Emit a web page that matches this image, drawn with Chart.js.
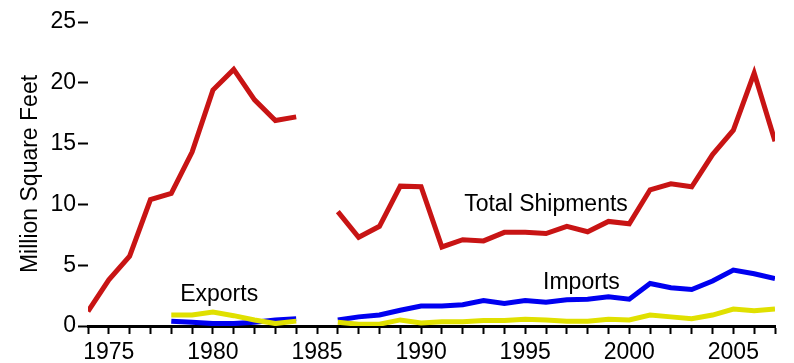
<!DOCTYPE html>
<html lang="en">
<head>
  <meta charset="UTF-8">
  <title>Million Square Feet</title>
  <script src="https://cdn.jsdelivr.net/npm/chart.js"></script>
  <style>
    html, body { margin: 0; padding: 0; background: #fff; }
    #wrap { width: 794px; height: 363px; position: relative; }
  </style>
</head>
<body>
  <div id="wrap"><canvas id="chart"></canvas></div>
  <script>
    // years on the x axis (1985 has no data)
    const years = [1974, 1975, 1976, 1977, 1978, 1979, 1980, 1981, 1982, 1983, 1984, 1985,
      1986, 1987, 1988, 1989, 1990, 1991, 1992, 1993, 1994, 1995, 1996, 1997, 1998, 1999,
      2000, 2001, 2002, 2003, 2004, 2005, 2006, 2007];

    const totalShipments = [1.2, 3.8, 5.75, 10.4, 10.9, 14.3, 19.4, 21.1, 18.6, 16.9, 17.2, null,
      9.4, 7.3, 8.2, 11.5, 11.45, 6.5, 7.1, 7.0, 7.7, 7.7, 7.6, 8.2, 7.75, 8.6,
      8.4, 11.2, 11.7, 11.45, 14.1, 16.1, 20.8, 15.2];

    const imports = [null, null, null, null, 0.4, 0.3, 0.2, 0.2, 0.3, 0.5, 0.6, null,
      0.5, 0.75, 0.9, 1.3, 1.65, 1.65, 1.75, 2.1, 1.85, 2.1, 1.95, 2.15, 2.2, 2.4,
      2.2, 3.5, 3.15, 3.0, 3.7, 4.6, 4.3, 3.9];

    const exports = [null, null, null, null, 0.9, 0.9, 1.15, 0.85, 0.5, 0.2, 0.4, null,
      0.3, 0.15, 0.15, 0.5, 0.25, 0.35, 0.35, 0.45, 0.45, 0.55, 0.5, 0.4, 0.4, 0.55,
      0.5, 0.9, 0.75, 0.6, 0.9, 1.4, 1.25, 1.4];

    const yTicks = [0, 5, 10, 15, 20, 25];

    // in-chart series labels, placed in data units
    const seriesLabels = ['Total Shipments', 'Imports', 'Exports'];
    const labelX = [1996.0, 1997.7, 1980.3];
    const labelY = [10.0, 3.6, 2.55];

    const FONT = '"Liberation Sans", Arial, sans-serif';

    function pairs(vals) {
      return years.map((yr, i) => ({ x: yr, y: vals[i] }));
    }

    const textPlugin = {
      id: 'seriesText',
      afterDatasetsDraw(chart) {
        const ctx = chart.ctx;
        const xs = chart.scales.x, ys = chart.scales.y;
        ctx.save();
        ctx.fillStyle = '#000';
        ctx.font = '23px ' + FONT;
        ctx.textAlign = 'center';
        ctx.textBaseline = 'middle';
        seriesLabels.forEach((t, i) => {
          ctx.fillText(t, xs.getPixelForValue(labelX[i]), ys.getPixelForValue(labelY[i]));
        });
        ctx.restore();
      }
    };

    const lineStyle = {
      borderWidth: 5,
      pointRadius: 0,
      fill: false,
      tension: 0,
      spanGaps: false,
      borderCapStyle: 'butt',
      borderJoinStyle: 'miter'
    };

    new Chart(document.getElementById('chart'), {
      type: 'line',
      data: {
        datasets: [
          Object.assign({ label: 'Exports', data: pairs(exports), borderColor: '#e0e000' }, lineStyle),
          Object.assign({ label: 'Imports', data: pairs(imports), borderColor: '#0000f0' }, lineStyle),
          Object.assign({ label: 'Total Shipments', data: pairs(totalShipments), borderColor: '#c81414' }, lineStyle)
        ]
      },
      options: {
        responsive: true,
        maintainAspectRatio: false,
        animation: false,
        layout: { padding: { top: 22, right: 19, left: 0, bottom: 0 } },
        plugins: { legend: { display: false }, tooltip: { enabled: false } },
        scales: {
          x: {
            type: 'linear',
            min: 1974,
            max: 2007,
            afterFit(scale) { scale.height = 37; },
            afterBuildTicks(scale) { scale.ticks = years.map(v => ({ value: v })); },
            ticks: {
              autoSkip: false,
              maxRotation: 0,
              color: '#000',
              padding: 5,
              font: { family: FONT, size: 23 },
              callback: v => (v % 5 === 0 ? String(v) : '')
            },
            grid: {
              drawOnChartArea: false,
              drawTicks: true,
              tickLength: 8,
              tickWidth: 2,
              tickColor: '#000'
            },
            border: { display: true, color: '#000', width: 3 }
          },
          y: {
            min: 0,
            max: 25,
            afterFit(scale) { scale.width = 88; },
            afterBuildTicks(scale) { scale.ticks = yTicks.map(v => ({ value: v })); },
            ticks: {
              color: '#000',
              padding: 2,
              font: { family: FONT, size: 23 }
            },
            grid: {
              drawOnChartArea: false,
              drawTicks: true,
              tickLength: 10,
              tickWidth: 2,
              tickColor: '#000'
            },
            border: { display: false },
            title: {
              display: true,
              text: 'Million Square Feet',
              color: '#000',
              padding: { top: 17, bottom: 0 },
              font: { family: FONT, size: 23 }
            }
          }
        }
      },
      plugins: [textPlugin]
    });
  </script>
</body>
</html>
